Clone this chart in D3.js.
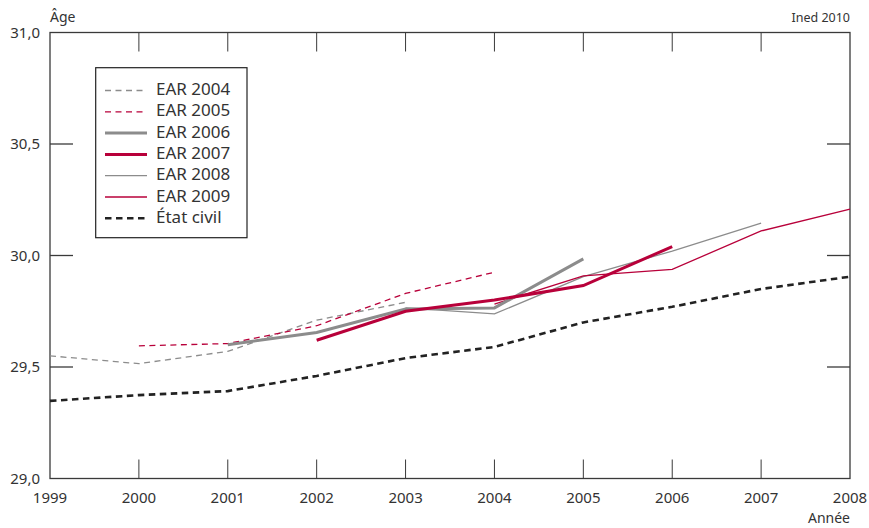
<!DOCTYPE html>
<html>
<head>
<meta charset="utf-8">
<script src="https://cdn.jsdelivr.net/npm/d3@7"></script>
<style>
  body { margin: 0; background: #fff; }
  svg { display: block; font-family: "Noto Sans", "Open Sans", sans-serif; }
</style>
</head>
<body>
<svg id="chart" width="869" height="528"></svg>
<script>
// Mean age at first birth (years), by source
const years = [1999, 2000, 2001, 2002, 2003, 2004, 2005, 2006, 2007, 2008];
const yTicks = [29.0, 29.5, 30.0, 30.5, 31.0];

const ear2004Years = [1999, 2000, 2001, 2002, 2003];
const ear2004 = [29.55, 29.515, 29.57, 29.71, 29.79];

const ear2005Years = [2000, 2001, 2002, 2003, 2004];
const ear2005 = [29.595, 29.605, 29.685, 29.83, 29.925];

const ear2006Years = [2001, 2002, 2003, 2004, 2005];
const ear2006 = [29.60, 29.655, 29.76, 29.765, 29.985];

const ear2007Years = [2002, 2003, 2004, 2005, 2006];
const ear2007 = [29.62, 29.75, 29.80, 29.865, 30.04];

const ear2008Years = [2003, 2004, 2005, 2006, 2007];
const ear2008 = [29.765, 29.738, 29.905, 30.02, 30.145];

const ear2009Years = [2004, 2005, 2006, 2007, 2008];
const ear2009 = [29.782, 29.909, 29.938, 30.11, 30.208];

const etatCivilYears = years;
const etatCivil = [29.348, 29.374, 29.392, 29.46, 29.54, 29.59, 29.70, 29.77, 29.85, 29.905];

const GRAY = "#8c8c8c";
const RED = "#b8003a";
const BLACK = "#222";

const series = [
  { name: "EAR 2004", years: ear2004Years, values: ear2004, color: GRAY, width: 1.3, dash: "6,4.5" },
  { name: "EAR 2005", years: ear2005Years, values: ear2005, color: RED, width: 1.3, dash: "6,4.5" },
  { name: "EAR 2006", years: ear2006Years, values: ear2006, color: GRAY, width: 3, dash: null },
  { name: "EAR 2007", years: ear2007Years, values: ear2007, color: RED, width: 3, dash: null },
  { name: "EAR 2008", years: ear2008Years, values: ear2008, color: GRAY, width: 1.3, dash: null },
  { name: "EAR 2009", years: ear2009Years, values: ear2009, color: RED, width: 1.3, dash: null },
  { name: "État civil", years: etatCivilYears, values: etatCivil, color: BLACK, width: 2.6, dash: "6.5,4.5" }
];

const svg = d3.select("#chart");
const x = d3.scaleLinear().domain([1999, 2008]).range([50, 850]);
const y = d3.scaleLinear().domain([29, 31]).range([478.5, 32.5]);

const axisColor = "#3a3a3a";

// Frame: left, top, right, bottom
const frame = svg.append("g").attr("stroke", axisColor).attr("stroke-width", 1.3).attr("fill", "none");
frame.append("rect")
  .attr("x", x(1999)).attr("y", y(31))
  .attr("width", x(2008) - x(1999)).attr("height", y(29) - y(31));

// Inward ticks on the horizontal edges
const innerYears = years.slice(1, -1);
frame.selectAll("line.xt-top").data(innerYears).join("line")
  .attr("x1", d => x(d)).attr("x2", d => x(d))
  .attr("y1", y(31)).attr("y2", y(31) + 19).attr("stroke-width", 1);
frame.selectAll("line.xt-bot").data(innerYears).join("line")
  .attr("x1", d => x(d)).attr("x2", d => x(d))
  .attr("y1", y(29)).attr("y2", y(29) - 19).attr("stroke-width", 1);

// Inward ticks on the vertical edges
const innerY = yTicks.slice(1, -1);
frame.selectAll("line.yt-l").data(innerY).join("line")
  .attr("x1", x(1999)).attr("x2", x(1999) + 23)
  .attr("y1", d => y(d)).attr("y2", d => y(d));
frame.selectAll("line.yt-r").data(innerY).join("line")
  .attr("x1", x(2008)).attr("x2", x(2008) - 23)
  .attr("y1", d => y(d)).attr("y2", d => y(d));

// Tick labels
const fmt = d => d3.format(".1f")(d).replace(".", ",");
svg.append("g").selectAll("text").data(yTicks).join("text")
  .attr("x", 40).attr("y", d => y(d) + 5)
  .attr("text-anchor", "end").attr("font-size", 15).attr("fill", "#333")
  .text(fmt);

svg.append("g").selectAll("text").data(years).join("text")
  .attr("x", d => x(d)).attr("y", 503)
  .attr("text-anchor", "middle").attr("font-size", 15).attr("fill", "#333")
  .text(d => d);

svg.append("text").attr("x", 50).attr("y", 22)
  .attr("font-size", 14).attr("fill", "#333").text("Âge");
svg.append("text").attr("x", 850).attr("y", 523).attr("text-anchor", "end")
  .attr("font-size", 14).attr("fill", "#333").text("Année");
svg.append("text").attr("x", 850).attr("y", 22).attr("text-anchor", "end")
  .attr("font-size", 12.5).attr("fill", "#333").text("Ined 2010");

// Series lines
const line = d3.line().x(d => x(d[0])).y(d => y(d[1]));
const drawOrder = [6, 0, 1, 4, 5, 2, 3];
svg.append("g").selectAll("path").data(drawOrder.map(i => series[i])).join("path")
  .attr("d", s => line(s.years.map((yr, i) => [yr, s.values[i]])))
  .attr("fill", "none")
  .attr("stroke", s => s.color)
  .attr("stroke-width", s => s.width)
  .attr("stroke-dasharray", s => s.dash);

// Legend
const lg = svg.append("g");
lg.append("rect").attr("x", 95.7).attr("y", 67.7).attr("width", 151.3).attr("height", 170)
  .attr("fill", "#fff").attr("stroke", "#222").attr("stroke-width", 1.2);
const rows = lg.selectAll("g.row").data(series).join("g")
  .attr("transform", (d, i) => `translate(0,${90.5 + i * 21.3})`);
rows.append("line")
  .attr("x1", 105).attr("x2", 147).attr("y1", 0).attr("y2", 0)
  .attr("stroke", d => d.color).attr("stroke-width", d => d.width)
  .attr("stroke-dasharray", d => d.dash);
rows.append("text")
  .attr("x", 156).attr("y", 4.5).attr("font-size", 17).attr("fill", "#333")
  .text(d => d.name);
</script>
</body>
</html>
